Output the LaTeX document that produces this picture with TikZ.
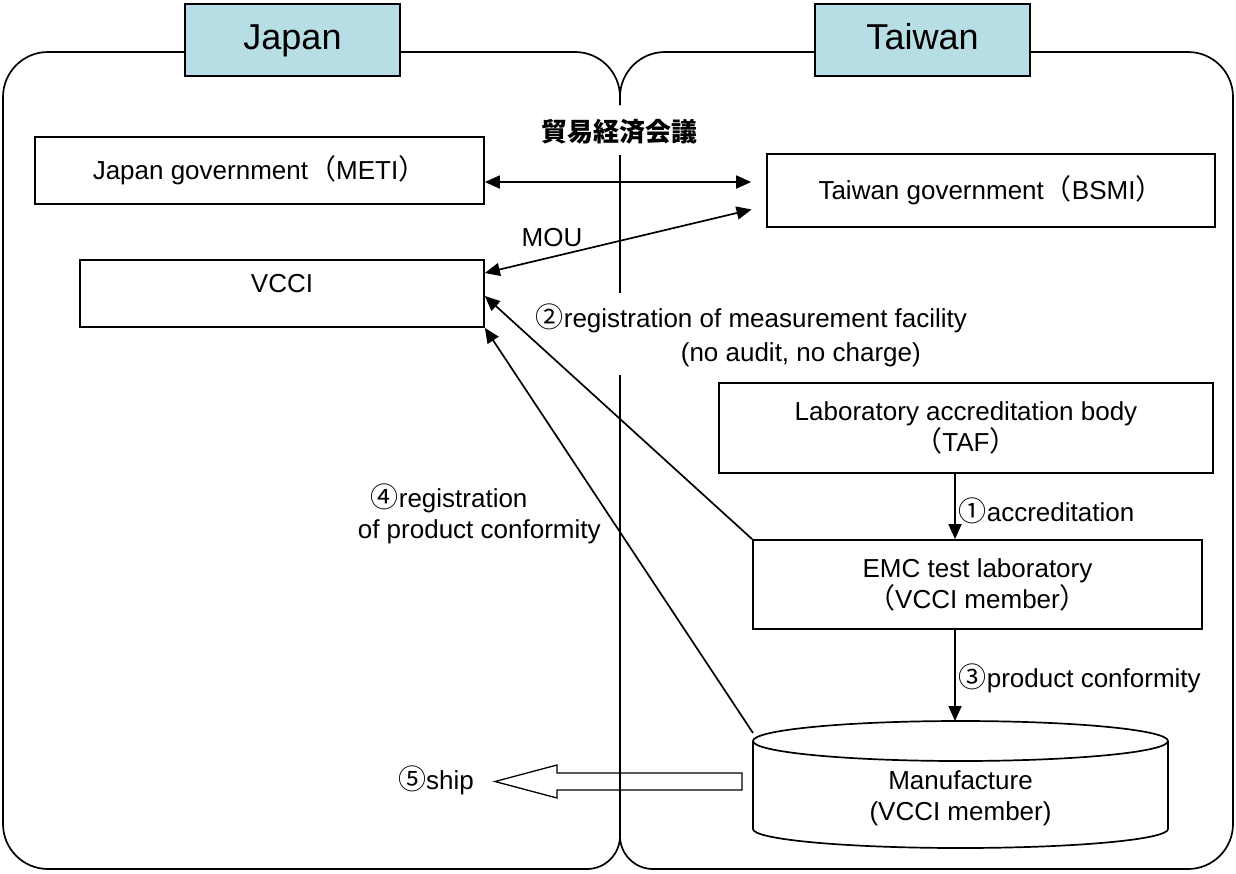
\documentclass[tikz,border=0pt]{standalone}
\usepackage{fontspec}
\setmainfont{Liberation Sans}
\newfontfamily\cjk{Noto Sans CJK JP}
\usetikzlibrary{arrows.meta}
\definecolor{tabcyan}{RGB}{183,222,228}
\begin{document}
\begin{tikzpicture}[x=1pt, y=-1pt, line width=1.7pt, >={Triangle[length=15pt,width=13pt]}]

    \newcommand{\circled}[1]{{\cjk\fontsize{28}{31}\selectfont #1}}

    \tikzstyle{box}=[draw, rectangle, inner sep=0pt, align=center, font=\fontsize{26}{31}\selectfont]
    \tikzstyle{tab}=[box, fill=tabcyan, minimum width=215pt, minimum height=72pt, text height=26pt, text depth=7pt, font=\fontsize{36}{40}\selectfont]
    \tikzstyle{txt}=[inner sep=0pt, font=\fontsize{26}{31}\selectfont]

    \fill[white] (0,0) rectangle (1236,873);

    % two country frames
    \draw (620,105) [rounded corners=45pt] |- (3,52) -- (3,869) [rounded corners=33pt] -- (620,869) -- (620,375);
    \draw (620,105) [rounded corners=45pt] |- (1233,52) -- (1233,869) [rounded corners=33pt] -- (620,869) -- (620,375);
    \draw (620,155) -- (620,293);

    \node[tab] (jp) at (292.5,40) {Japan};
    \node[tab] (tw) at (922.5,40) {Taiwan};

    \node[box, minimum width=449pt, minimum height=67pt] (jgov) at (259.5,170.5) {Japan government\circled{（}METI\circled{）}};
    \node[box, minimum width=448pt, minimum height=73pt] (tgov) at (991,190.5) {Taiwan government\circled{（}BSMI\circled{）}};
    \node[box, minimum width=404pt, minimum height=67pt, text depth=20pt] (vcci) at (282,293.5) {VCCI};
    \node[box, minimum width=494pt, minimum height=90pt] (lab) at (966,428) {Laboratory accreditation body\\\circled{（}TAF\circled{）}};
    \node[box, minimum width=449pt, minimum height=89pt] (emc) at (977.5,584.5) {EMC test laboratory\\\circled{（}VCCI member\circled{）}};

    % manufacturer drum
    \coordinate (cyltop) at (960.5,741);
    \coordinate (cylbot) at (960.5,829);
    \draw (cyltop) ellipse [x radius=207.5pt, y radius=20pt];
    \draw ([xshift=-207.5pt]cyltop) -- ([xshift=-207.5pt]cylbot) arc[start angle=180, end angle=360, x radius=207.5pt, y radius=19pt] -- ([xshift=207.5pt]cyltop);
    \node[txt, align=center] (mfg) at (960.5,798) {Manufacture\\(VCCI member)};

    \coordinate (axis) at (955,0);
    \coordinate (cylrim) at (955,721);
    \coordinate (cylcorner) at (753,733);
    \coordinate (shipfrom) at (742,781.5);

    % connectors
    \draw[<->, shorten >=15pt] (jgov.east |- 0,182) -- (tgov.west |- 0,182);
    \draw[<->, shorten >=15pt] (vcci.east |- 0,273) -- (tgov.west |- 0,206);
    \draw[->] (emc.north west) -- (vcci.east |- 0,296);
    \draw[->] (cylcorner) -- (vcci.south east);
    \draw[->] (lab.south -| axis) -- (emc.north -| axis);
    \draw[->] (emc.south -| axis) -- (cylrim);
    \draw[line width=1.3pt] (shipfrom) ++(0,-8.5) -- ++(-185,0) -- ++(0,-8) -- ++(-62,16.5) -- ++(62,16.5) -- ++(0,-8) -- ++(185,0) -- cycle;

    % labels
    \node[txt, font=\cjk\bfseries\fontsize{26}{30}\selectfont] (trade) at (619,132) {貿易経済会議};
    \node[txt] (mou) at (552,238) {MOU};
    \node[txt, anchor=west, align=left] (reg) at (535,335) {\circled{②}registration of measurement facility\\[3pt]\hspace*{145pt}(no audit, no charge)};
    \node[txt, anchor=west] (acc) at (958,511) {\circled{①}accreditation};
    \node[txt, anchor=west, align=left] (conf) at (357,514) {\hspace*{13pt}\circled{④}registration\\of product conformity};
    \node[txt, anchor=west] (prod) at (958,678) {\circled{③}product conformity};
    \node[txt] (ship) at (436,780) {\circled{⑤}ship};

\end{tikzpicture}
\end{document}
